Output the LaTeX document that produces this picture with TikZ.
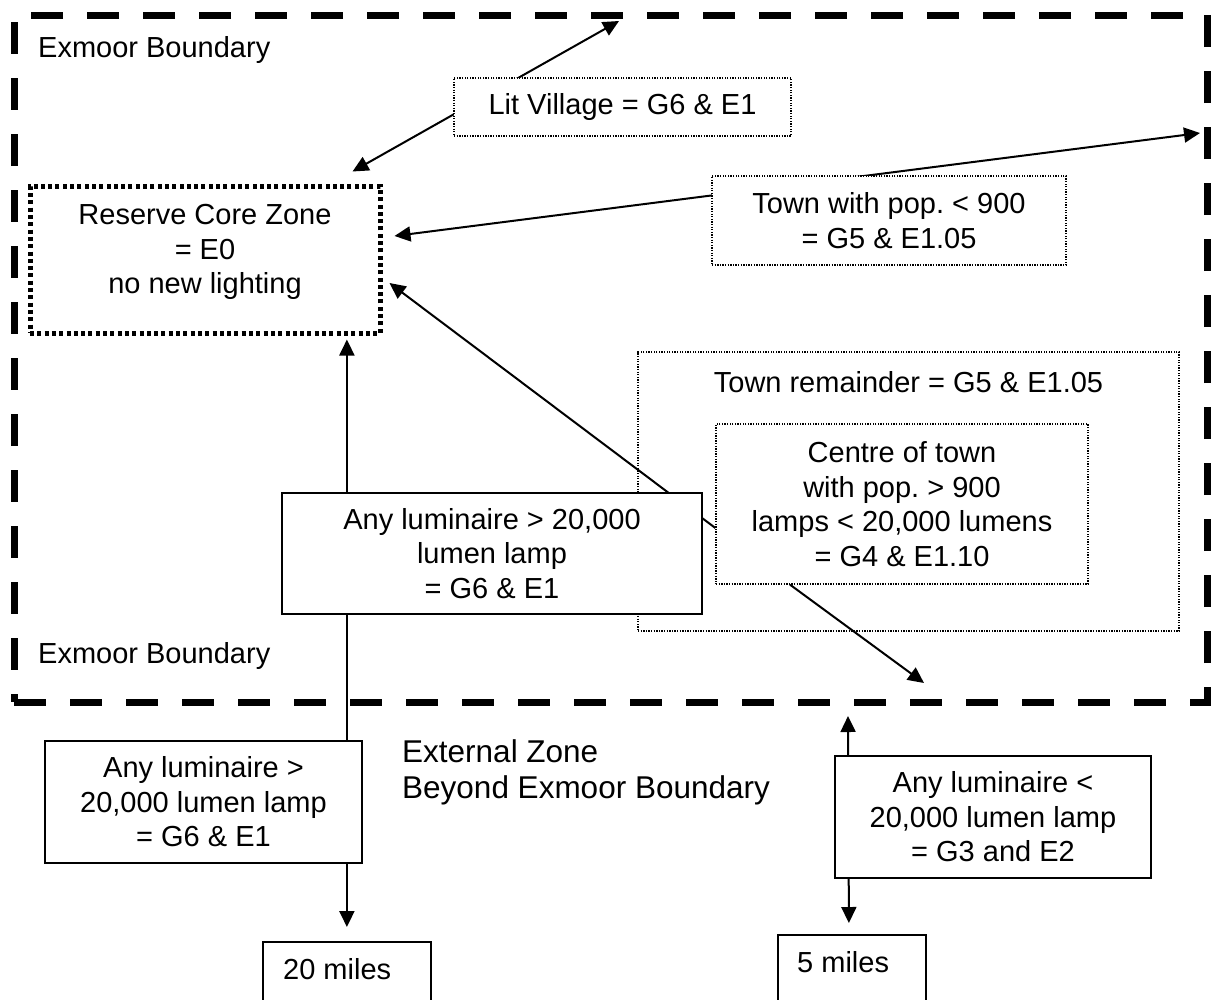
\documentclass[tikz,border=0pt]{standalone}
\usepackage{fontspec}
\setmainfont{Liberation Sans}
\usepackage{tikz}
\usetikzlibrary{
  arrows.meta,
  positioning,
  backgrounds
}
\frenchspacing

\begin{document}
\begin{tikzpicture}[
            x=1pt, y=-1pt,
            every node/.style={font=\fontsize{29}{34.5}\selectfont},
            bx/.style={draw, line width=1.8pt, fill=white, align=center},
            dbx/.style={draw, line width=1.3pt, dash pattern=on 1.3pt off 1.3pt, fill=white, align=center},
            cbx/.style={draw, line width=5pt, dash pattern=on 4pt off 3.3pt, minimum width=350pt, minimum height=147pt},
            lbl/.style={inner sep=0pt, align=center},
            bdr/.style={line width=7pt, dash pattern=on 32pt off 24pt},
            arr/.style={line width=2pt, -{Triangle[length=16pt,width=15pt]}},
            darr/.style={line width=2pt, {Triangle[length=16pt,width=15pt]}-{Triangle[length=16pt,width=15pt]}}
        ]
            \useasboundingbox (0,0) rectangle (1212,999);
            % zones inside the Exmoor boundary
            \node[cbx] (core) at (205,259.5) {};
            \node[lbl, below=21pt of core.north] (coretxt) {Reserve Core Zone\\= E0\\no new lighting};
            \node[dbx, minimum width=337pt, minimum height=58pt] (vil) at (622.5,107) {Lit Village = G6 \& E1};
            \node[dbx, minimum width=354pt, minimum height=89pt] (town) at (889,220.5) {Town with pop. < 900\\= G5 \& E1.05};
            \node[dbx, fill=none, minimum width=541pt, minimum height=279pt] (rem) at (908.5,491.5) {};
            \node[lbl, below=20pt of rem.north] (remtxt) {Town remainder = G5 \& E1.05};
            \node[dbx, minimum width=372pt, minimum height=160pt] (cen) at (902,504) {Centre of town\\with pop. > 900\\lamps < 20,000 lumens\\= G4 \& E1.10};
            \node[bx, minimum width=420pt, minimum height=121pt] (big) at (492,553.5) {Any luminaire > 20,000\\lumen lamp\\= G6 \& E1};
            % zones beyond the boundary
            \node[bx, minimum width=317pt, minimum height=122pt] (anyhi) at (203.5,802) {Any luminaire >\\20,000 lumen lamp\\= G6 \& E1};
            \node[bx, minimum width=316pt, minimum height=122pt] (anylo) at (993,817) {Any luminaire <\\20,000 lumen lamp\\= G3 and E2};
            \node[bx, anchor=north west, minimum width=168pt, minimum height=100pt] (far) at (262,941) {};
            \node[lbl, anchor=base west] (fartxt) at ([xshift=21pt,yshift=-38pt]far.north west) {20 miles};
            \node[bx, anchor=north west, minimum width=148pt, minimum height=100pt] (near) at (777,934) {};
            \node[lbl, anchor=base west] (neartxt) at ([xshift=20pt,yshift=-38pt]near.north west) {5 miles};
            % labels
            \node[lbl, anchor=base west] (bndtop) at (38,57) {Exmoor Boundary};
            \node[lbl, anchor=base west] (bndbot) at (38,663) {Exmoor Boundary};
            \node[lbl, align=left, anchor=north west, font=\fontsize{31.5}{36}\selectfont] (ext) at (402,739.5) {External Zone\\Beyond Exmoor Boundary};
            % free arrow ends on the boundary
            \coordinate (tipN) at (619,21);
            \coordinate (tipE) at (1200,133);
            \coordinate (tipS) at (924,683);
            \coordinate (tipB) at (848,716);
            \begin{scope}[on background layer]
                \draw[bdr] (14,702) -- (1207,702) -- (1207,15) -- (14,15) -- cycle;
                \draw[darr] ([xshift=-30pt,yshift=12pt]core.north east) -- (tipN);
                \draw[darr] ([xshift=12pt,yshift=23.5pt]core.east) -- (tipE);
                \draw[arr] ([yshift=-24pt]cen.west) -- ([xshift=7pt,yshift=-23.5pt]core.east);
                \draw[arr] ([xshift=-112pt]cen.south) -- (tipS);
                \draw[darr] ([yshift=-4pt]core.south -| far.north) -- ([yshift=14pt]far.north);
                \draw[darr] (tipB) -- ([xshift=-3pt,yshift=11pt]near.north);
            \end{scope}
        \end{tikzpicture}
\end{document}
